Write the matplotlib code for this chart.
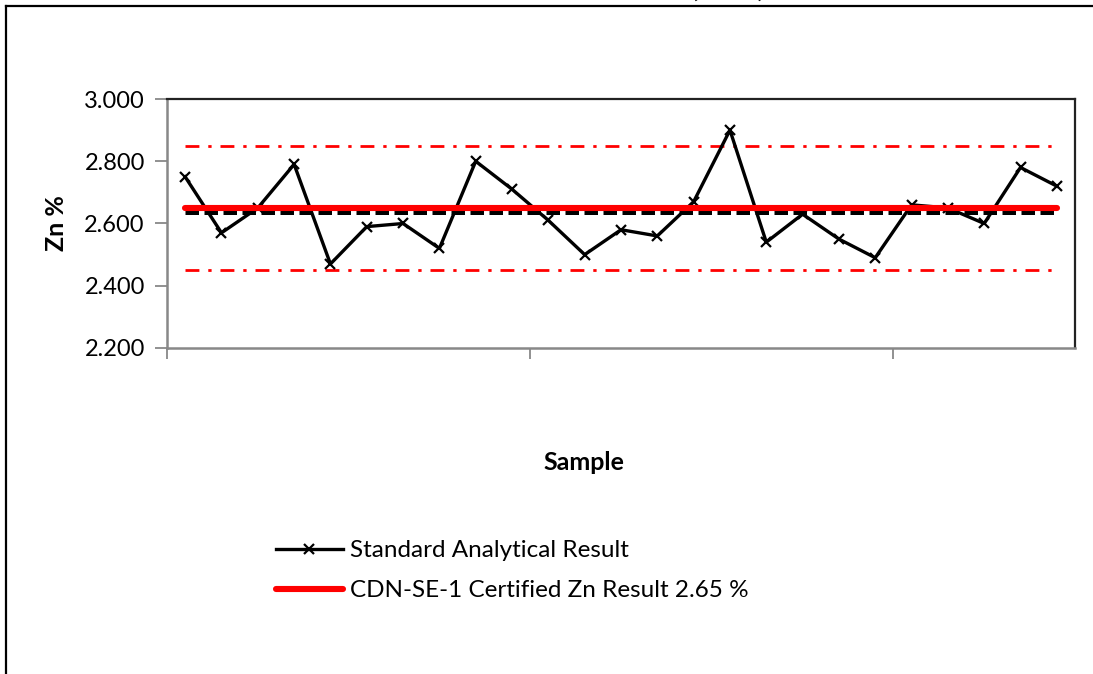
import numpy as np
import matplotlib
matplotlib.use("Agg")
import matplotlib.pyplot as plt
from matplotlib.lines import Line2D

plt.rcParams['font.family'] = ['Lato', 'DejaVu Sans']

# data
samples = np.arange(1, 26)
zn_results = [2.75, 2.57, 2.65, 2.79, 2.47, 2.59, 2.60, 2.52, 2.80, 2.71,
              2.61, 2.50, 2.58, 2.56, 2.67, 2.90, 2.54, 2.63, 2.55, 2.49,
              2.66, 2.65, 2.60, 2.78, 2.72]
certified = 2.65
upper_limit = 2.85
lower_limit = 2.45
mean_result = np.mean(zn_results)

y_ticks = [2.2, 2.4, 2.6, 2.8, 3.0]

W, H = 1093, 674
fig = plt.figure(figsize=(W / 100, H / 100), dpi=100)
ax = fig.add_axes([167 / W, 1 - 348 / H, (1075 - 167) / W, (348 - 99) / H])

ax.plot(samples, [upper_limit] * len(samples), color='red', lw=2,
        linestyle=(0, (5, 3.2, 1.2, 3.2)), zorder=2)
ax.plot(samples, [lower_limit] * len(samples), color='red', lw=2,
        linestyle=(0, (5, 3.2, 1.2, 3.2)), zorder=2)
ax.plot(samples, zn_results, color='black', lw=2.4, marker='x', markersize=7,
        markeredgewidth=1.6, zorder=3, label='Standard Analytical Result')
ax.plot(samples, [mean_result] * len(samples), color='black', lw=3.6,
        linestyle=(0, (2.7, 1.1)), zorder=4)
ax.plot(samples, [certified] * len(samples), color='red', lw=4.4,
        solid_capstyle='round', zorder=5,
        label='CDN-SE-1 Certified Zn Result 2.65 %')

ax.set_xlim(0.5, 25.5)
ax.set_ylim(2.2, 3.0)
ax.set_yticks(y_ticks)
ax.set_yticklabels([f'{v:.3f}' for v in y_ticks], fontsize=17)
ax.set_xticks([0.5, 10.5, 20.5])
ax.set_xticklabels([])
ax.tick_params(axis='y', direction='out', length=9, width=1.3, color='#888888', pad=7)
ax.tick_params(axis='x', direction='out', length=8, width=1.3, color='#888888')

ax.spines['left'].set_color('#888888')
ax.spines['bottom'].set_color('#888888')
ax.spines['left'].set_linewidth(1.8)
ax.spines['bottom'].set_linewidth(1.8)
ax.spines['top'].set_color('#222222')
ax.spines['right'].set_color('#222222')
ax.spines['top'].set_linewidth(1.6)
ax.spines['right'].set_linewidth(1.6)

fig.text(57 / W, 1 - 223 / H, 'Zn %', rotation=90, fontsize=18,
         fontweight='bold', ha='center', va='center')
fig.text(584 / W, 1 - 463 / H, 'Sample', fontsize=18, fontweight='bold',
         ha='center', va='center')

# title is cut off at the top of the picture
fig.text(728 / W, 1 + 3 / H, '(Zn %)', fontsize=19, fontweight='bold',
         ha='center', va='baseline')

handles, labels = ax.get_legend_handles_labels()
fig.legend(handles, labels, loc='upper left',
           bbox_to_anchor=(276 / W, 1 - 540 / H), frameon=False,
           fontsize=17.5, handlelength=2.75, handletextpad=0.3,
           labelspacing=0.8, borderpad=0, borderaxespad=0)

# chart area border (left and top only visible)
fig.add_artist(Line2D([6 / W, 6 / W], [0, 1 - 6 / H], color='black', lw=1.6))
fig.add_artist(Line2D([6 / W, 1], [1 - 6 / H, 1 - 6 / H], color='black', lw=1.6))

fig.savefig('out.png', dpi=100)
